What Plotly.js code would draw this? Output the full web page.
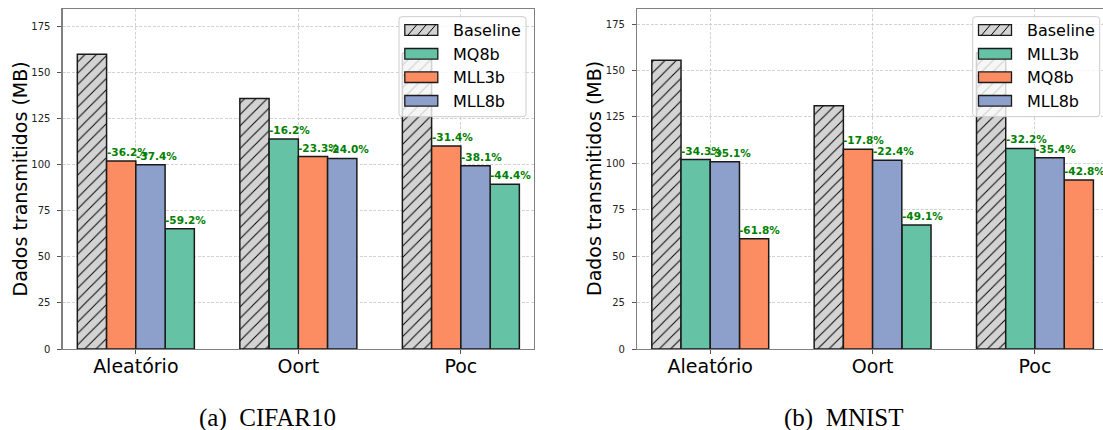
<!DOCTYPE html>
<html>
<head>
<meta charset="utf-8">
<script src="https://cdn.plot.ly/plotly-3.0.1.min.js"></script>
<style>
html,body{margin:0;padding:0;overflow:hidden;background:#fff;width:1103px;height:430px;}
#chart{width:1108px;height:430px;}
</style>
</head>
<body>
<div id="chart"></div>
<script>
// ---------------- data ----------------
const categories = ['Aleatório', 'Oort', 'Poc'];

// (a) CIFAR10
const cifarSeries = ['Baseline', 'MQ8b', 'MLL3b', 'MLL8b'];
const cifarBaseline = [160.0, 136.0, 160.5];
const cifarMQ8b     = [65.2, 114.0, 89.4];
const cifarMLL3b    = [102.0, 104.4, 110.2];
const cifarMLL8b    = [100.0, 103.4, 99.5];
const cifarMQ8bPct  = ['-59.2%', '-16.2%', '-44.4%'];
const cifarMLL3bPct = ['-36.2%', '-23.3%', '-31.4%'];
const cifarMLL8bPct = ['-37.4%', '-24.0%', '-38.1%'];

// (b) MNIST
const mnistSeries = ['Baseline', 'MLL3b', 'MQ8b', 'MLL8b'];
const mnistBaseline = [155.5, 131.0, 159.5];
const mnistMLL3b    = [102.0, 66.8, 108.0];
const mnistMQ8b     = [59.4, 107.6, 91.0];
const mnistMLL8b    = [100.9, 101.6, 103.0];
const mnistMLL3bPct = ['-34.3%', '-49.1%', '-32.2%'];
const mnistMQ8bPct  = ['-61.8%', '-17.8%', '-42.8%'];
const mnistMLL8bPct = ['-35.1%', '-22.4%', '-35.4%'];

const yTicks = [0, 25, 50, 75, 100, 125, 150, 175];
const captions = ['(a)\u00a0\u00a0CIFAR10', '(b)\u00a0\u00a0MNIST'];
const yTitle = 'Dados transmitidos (MB)';

// ---------------- style ----------------
const W = 1108, H = 430;
const colors = ['#d3d3d3', '#66c2a5', '#fc8d62', '#8da0cb'];
const BW = 0.18;
const edge = '#1a1a1a';
const px = x => x / W;
const py = y => 1 - y / H;

const traces = [];
const annotations = [];
const shapes = [];

function buildPanel(names, vals, pcts, xa, ya) {
  const nG = categories.length;
  const slots = names.map(() => []);
  for (let g = 0; g < nG; g++) {
    const order = names.map((_, s) => s).sort((a, b) => vals[b][g] - vals[a][g]);
    order.forEach((s, rank) => { slots[s][g] = rank; });
  }
  names.forEach((name, s) => {
    const xs = slots[s].map((r, g) => g + (r - (names.length - 1) / 2) * BW);
    const tr = {
      type: 'bar', name: name, x: xs, y: vals[s], width: BW,
      xaxis: xa, yaxis: ya, hoverinfo: 'skip',
      marker: { color: colors[s], line: { color: edge, width: 1.5 } }
    };
    if (s === 0) {
      tr.marker.pattern = { shape: '/', fgcolor: '#000', bgcolor: colors[0], size: 8, solidity: 0.12 };
    }
    traces.push(tr);
    if (pcts[s]) {
      xs.forEach((x, g) => {
        annotations.push({
          xref: xa, yref: ya, x: x - BW / 2, y: vals[s][g],
          xanchor: 'left', yanchor: 'bottom', showarrow: false,
          text: '<b>' + pcts[s][g] + '</b>', xshift: -2, yshift: 1,
          font: { family: 'DejaVu Sans', size: 10.5, color: '#008000' }
        });
      });
    }
  });
}

buildPanel(cifarSeries, [cifarBaseline, cifarMQ8b, cifarMLL3b, cifarMLL8b],
           [null, cifarMQ8bPct, cifarMLL3bPct, cifarMLL8bPct], 'x', 'y');
buildPanel(mnistSeries, [mnistBaseline, mnistMLL3b, mnistMQ8b, mnistMLL8b],
           [null, mnistMLL3bPct, mnistMQ8bPct, mnistMLL8bPct], 'x2', 'y2');

function roundRect(x0, y0, x1, y1, r) {
  const X = v => px(v).toFixed(5), Y = v => py(v).toFixed(5);
  return 'M' + X(x0 + r) + ',' + Y(y0) + ' L' + X(x1 - r) + ',' + Y(y0) +
    ' Q' + X(x1) + ',' + Y(y0) + ' ' + X(x1) + ',' + Y(y0 + r) +
    ' L' + X(x1) + ',' + Y(y1 - r) +
    ' Q' + X(x1) + ',' + Y(y1) + ' ' + X(x1 - r) + ',' + Y(y1) +
    ' L' + X(x0 + r) + ',' + Y(y1) +
    ' Q' + X(x0) + ',' + Y(y1) + ' ' + X(x0) + ',' + Y(y1 - r) +
    ' L' + X(x0) + ',' + Y(y0 + r) +
    ' Q' + X(x0) + ',' + Y(y0) + ' ' + X(x0 + r) + ',' + Y(y0) + ' Z';
}
function buildLegend(names, boxX0) {
  const boxX1 = boxX0 + 127, boxY0 = 16.7, boxY1 = 116.7;
  shapes.push({ type: 'path', xref: 'paper', yref: 'paper', layer: 'above',
    path: roundRect(boxX0, boxY0, boxX1, boxY1, 3),
    fillcolor: 'rgba(255,255,255,0.8)', line: { color: '#cccccc', width: 1 } });
  const centers = [30, 53.8, 77.2, 100.8];
  names.forEach((name, s) => {
    const sx0 = boxX0 + 5.8, sx1 = sx0 + 33, c = centers[s];
    const sy0 = c - 5.3, sy1 = c + 5.3;
    shapes.push({ type: 'rect', xref: 'paper', yref: 'paper', layer: 'above',
      x0: px(sx0), x1: px(sx1), y0: py(sy1), y1: py(sy0),
      fillcolor: colors[s], line: { color: edge, width: 1.3 } });
    if (s === 0) {
      [3, 12.5, 22].forEach(a => {
        shapes.push({ type: 'line', xref: 'paper', yref: 'paper', layer: 'above',
          x0: px(sx0 + a), y0: py(sy1), x1: px(sx0 + a + 9), y1: py(sy0),
          line: { color: '#000', width: 1 } });
      });
    }
    annotations.push({ xref: 'paper', yref: 'paper', x: px(boxX0 + 52), y: py(c + 0.5),
      xanchor: 'left', yanchor: 'middle', showarrow: false, text: name,
      font: { family: 'DejaVu Sans', size: 16, color: '#000' } });
  });
}
buildLegend(cifarSeries, 399);
buildLegend(mnistSeries, 972.7);

[[19.5, 179], [594, 179]].forEach(p => {
  annotations.push({ xref: 'paper', yref: 'paper', x: px(p[0]), y: py(p[1]),
    xanchor: 'center', yanchor: 'middle', textangle: -90, showarrow: false,
    text: yTitle, font: { family: 'DejaVu Sans', size: 19, color: '#000' } });
});
[[267.5, 417.5], [843.3, 417.5]].forEach((p, i) => {
  annotations.push({ xref: 'paper', yref: 'paper', x: px(p[0]), y: py(p[1]),
    xanchor: 'center', yanchor: 'middle', showarrow: false,
    text: captions[i], font: { family: 'Liberation Serif', size: 25, color: '#000' } });
});

const xCommon = {
  range: [-0.45, 2.45], tickmode: 'array', tickvals: categories.map((_, i) => i), ticktext: categories,
  ticks: 'outside', ticklen: 4, tickwidth: 1, tickcolor: '#555', ticklabelstandoff: -4,
  showline: true, linecolor: '#808080', linewidth: 1.3, mirror: true,
  showgrid: true, gridcolor: '#c8c8c8', gridwidth: 0.8, griddash: '3px,1.5px',
  zeroline: false, automargin: false, fixedrange: true,
  tickfont: { family: 'DejaVu Sans', size: 19, color: '#000' }
};
const yCommon = {
  tickmode: 'array', tickvals: yTicks,
  ticks: 'outside', ticklen: 4, tickwidth: 1, tickcolor: '#555', ticklabelstandoff: 5,
  showline: true, linecolor: '#808080', linewidth: 1.3, mirror: true,
  showgrid: true, gridcolor: '#c8c8c8', gridwidth: 0.8, griddash: '3px,1.5px',
  zeroline: false, automargin: false, fixedrange: true,
  tickfont: { family: 'DejaVu Sans', size: 10, color: '#222' }
};
const yDom = [(H - 349) / H, (H - 9) / H];

const layout = {
  width: W, height: H, margin: { l: 0, r: 0, t: 0, b: 0, pad: 0 },
  paper_bgcolor: '#fff', plot_bgcolor: '#fff', showlegend: false, barmode: 'overlay',
  xaxis: Object.assign({}, xCommon, { domain: [px(62.7), px(534)], anchor: 'y' }),
  yaxis: Object.assign({}, yCommon, { domain: yDom, range: [0, 184.5], anchor: 'x' }),
  xaxis2: Object.assign({}, xCommon, { domain: [px(637.2), 1], anchor: 'y2' }),
  yaxis2: Object.assign({}, yCommon, { domain: yDom, range: [0, 183.1], anchor: 'x2' }),
  annotations: annotations, shapes: shapes
};

Plotly.newPlot('chart', traces, layout, { staticPlot: true, displayModeBar: false });
</script>
</body>
</html>
